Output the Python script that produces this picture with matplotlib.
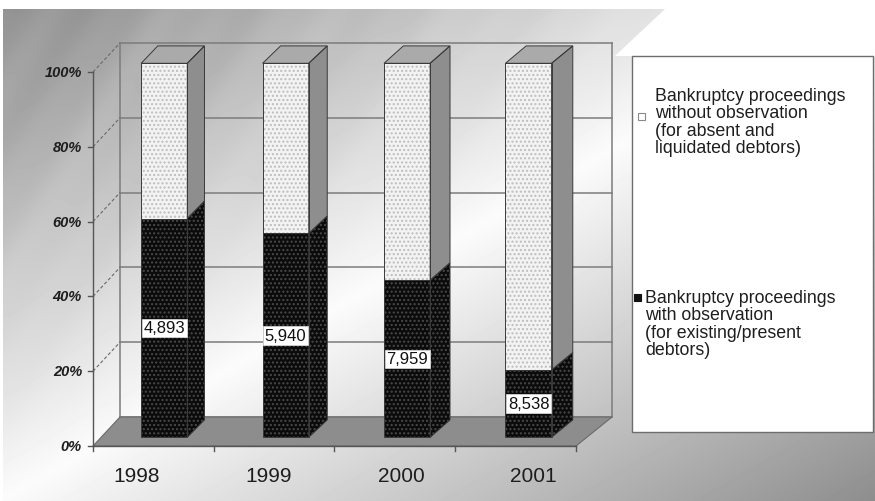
import numpy as np
import matplotlib
matplotlib.use("Agg")
import matplotlib.pyplot as plt
from matplotlib.patches import Polygon, Rectangle
import matplotlib.transforms as mtransforms

# ---------------- data ----------------
years = ["1998", "1999", "2000", "2001"]
with_obs_share = [58.5, 54.5, 42.0, 18.0]          # % with observation (black part)
with_obs_counts = ["4,893", "5,940", "7,959", "8,538"]
y_ticks = [0, 20, 40, 60, 80, 100]
y_tick_labels = ["0%", "20%", "40%", "60%", "80%", "100%"]
legend_labels = [
    "Bankruptcy proceedings\nwithout observation\n(for absent and\nliquidated debtors)",
    "Bankruptcy proceedings\nwith observation\n(for existing/present\ndebtors)",
]

FONT = ["Liberation Sans", "DejaVu Sans"]
plt.rcParams['font.family'] = FONT

W, H = 875, 502
fig = plt.figure(figsize=(W / 100, H / 100), dpi=100)
fig.patch.set_facecolor("white")

# ---------------- background gradient ----------------
bg = fig.add_axes([0, 0, 1, 1])
bg.set_xlim(0, W)
bg.set_ylim(H, 0)
bg.axis("off")
xx, yy = np.meshgrid(np.arange(W) + 0.5, np.arange(H) + 0.5)
s = xx / W + yy / H
v = 0.985 - 0.43 * np.abs(s - 1.0)
ph = xx + 0.6 * yy
v += (0.018 * np.sin(ph / 23.0) + 0.012 * np.sin(ph / 9.0 + 1.3)) * np.clip(1 - s, 0, 1)
v = np.clip(v, 0, 1)
im = bg.imshow(v, cmap="gray", vmin=0, vmax=1, extent=(0, W, H, 0),
               interpolation="bilinear", aspect="auto")
clip = Polygon([(3, 10), (665, 10), (615, 57), (W, 57), (W, H), (3, H)],
               closed=True, transform=bg.transData)
im.set_clip_path(clip)

# ---------------- projection setup ----------------
FX0, UX = 93.0, 120.75      # px of x=0 on the front plane, px per category
FY0, UY = 447.0, 3.74       # px (from top) of 0% on the front plane, px per %
DXP, DYP, KX = 27.0, 29.0, 0.0186

ax = fig.add_axes([0, 0, 1, 1])
ax.patch.set_alpha(0)
ax.axis("off")
ax.set_xlim(-FX0 / UX, (W - FX0) / UX)
ax.set_ylim(-(H - FY0) / UY, FY0 / UY)


def P(x, y, z):
    return (x * (1 + KX * z) + z * DXP / UX, y + z * DYP / UY)


ncat = len(years)
grid_col = "#7c7c7c"

# back wall gridlines and frame
for t in y_ticks:
    a, b = P(0, t, 1), P(ncat, t, 1)
    ax.plot([a[0], b[0]], [a[1], b[1]], color=grid_col, lw=1.1, zorder=1)
for xe in (0, ncat):
    a, b = P(xe, 0, 1), P(xe, 100, 1)
    ax.plot([a[0], b[0]], [a[1], b[1]], color=grid_col, lw=1.1, zorder=1)

# left side wall: dashed diagonals
for t in y_ticks[1:]:
    a, b = P(0, t, 0), P(0, t, 1)
    ax.plot([a[0], b[0]], [a[1], b[1]], color="#6a6a6a", lw=0.8,
            ls=(0, (3, 2)), zorder=1)

# floor
floor = Polygon([P(0, 0, 0), P(ncat, 0, 0), P(ncat, 0, 1), P(0, 0, 1)],
                closed=True, facecolor="#8d8d8d", edgecolor="#6a6a6a", lw=0.8, zorder=2)
ax.add_patch(floor)

# front axes lines
a, b = P(0, 0, 0), P(0, 100, 0)
ax.plot([a[0], b[0]], [a[1], b[1]], color="#555555", lw=1.0, zorder=2)
a, b = P(0, 0, 0), P(ncat, 0, 0)
ax.plot([a[0], b[0]], [a[1], b[1]], color="#555555", lw=1.0, zorder=2)
for t in y_ticks:
    a = P(0, t, 0)
    ax.plot([a[0] - 5 / UX, a[0]], [a[1], a[1]], color="#555555", lw=1.0, zorder=2)
for i in range(ncat + 1):
    a = P(i, 0, 0)
    ax.plot([a[0], a[0]], [a[1], a[1] - 5 / UY], color="#555555", lw=1.0, zorder=2)

# ---------------- bars ----------------
BW, BOFF, Z0, Z1 = 0.19, 0.52, 0.30, 0.90
plt.rcParams["hatch.linewidth"] = 1.0


def face(pts, fc, hatch_col, hatch, z):
    if hatch:
        ax.add_patch(Polygon(pts, closed=True, facecolor=fc, edgecolor=hatch_col,
                             lw=0, hatch=hatch, zorder=z))
    else:
        ax.add_patch(Polygon(pts, closed=True, facecolor=fc, lw=0, zorder=z))
    ax.add_patch(Polygon(pts, closed=True, fill=False, edgecolor="#3a3a3a",
                         lw=0.7, zorder=z + 0.1))


for i, p in enumerate(with_obs_share):
    c = i + BOFF
    segs = [(0, p, "#0b0b0b", "#4a4a4a", "#0b0b0b"),
            (p, 100, "#f3f3f3", "#bdbdbd", "#8e8e8e")]
    for (lo, hi, fc, hc, sc) in segs:
        front = [P(c - BW, lo, Z0), P(c + BW, lo, Z0), P(c + BW, hi, Z0), P(c - BW, hi, Z0)]
        side = [P(c + BW, lo, Z0), P(c + BW, lo, Z1), P(c + BW, hi, Z1), P(c + BW, hi, Z0)]
        face(side, sc, hc, "...." if fc == "#0b0b0b" else None, 3)
        face(front, fc, hc, "....", 3)
    top = [P(c - BW, 100, Z0), P(c + BW, 100, Z0), P(c + BW, 100, Z1), P(c - BW, 100, Z1)]
    face(top, "#aaaaaa", None, None, 3)
    lx, ly = P(c, p / 2.0, Z0)
    ax.text(lx, ly, with_obs_counts[i], ha="center", va="center", fontsize=12,
            color="#111111", zorder=10,
            bbox=dict(boxstyle="square,pad=0.1", facecolor="white", edgecolor="#e0e0e0", lw=0.5))

# ---------------- tick labels ----------------
ylab_tr = mtransforms.offset_copy(ax.transData, fig=fig, x=-11, y=0, units="dots")
for t, lab in zip(y_ticks, y_tick_labels):
    x0, y0 = P(0, t, 0)
    ax.text(x0, y0, lab, transform=ylab_tr, ha="right", va="center", fontsize=10.5,
            fontweight="bold", fontstyle="italic", color="#1e1e1e", zorder=10)

LAB_SPREAD, LAB_SHIFT = 1.093, 0.364
for i, yr in enumerate(years):
    x0, y0 = P(i * LAB_SPREAD + LAB_SHIFT, 0, 0)
    ax.text(x0, y0 - 30 / UY, yr, ha="center", va="center", fontsize=15,
            color="#1e1e1e", zorder=10)

# ---------------- legend ----------------
def fx(px):
    return px / W


def fy(py):
    return 1 - py / H


fig.patches.append(Rectangle((fx(632), fy(433)), fx(873) - fx(632), fy(57) - fy(433),
                             transform=fig.transFigure, facecolor="white",
                             edgecolor="#6e6e6e", lw=1.0, zorder=5))
fig.patches.append(Rectangle((fx(637.5), fy(120.5)), 7 / W, 7 / H, transform=fig.transFigure,
                             facecolor="white", edgecolor="#8a8a8a", lw=0.8, zorder=6))
fig.patches.append(Rectangle((fx(633.5), fy(301.5)), 7 / W, 7 / H, transform=fig.transFigure,
                             facecolor="#111111", edgecolor="#111111", lw=0.8, zorder=6))
fig.text(fx(655), fy(122.5), legend_labels[0], ha="left", va="center", fontsize=12.8,
         linespacing=1.04, color="#1e1e1e", zorder=7)
fig.text(fx(645), fy(324.5), legend_labels[1], ha="left", va="center", fontsize=12.8,
         linespacing=1.04, color="#1e1e1e", zorder=7)

fig.savefig("out.png", dpi=100, facecolor="white")
